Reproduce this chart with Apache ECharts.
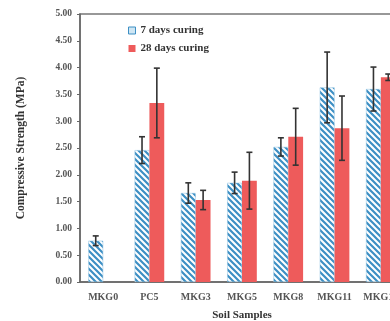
<!DOCTYPE html>
<html><head><meta charset="utf-8">
<script src="https://cdn.jsdelivr.net/npm/echarts@6/dist/echarts.min.js"></script>
<style>html,body{margin:0;padding:0;background:#fff}#c{width:390px;height:321px}</style>
</head><body><div id="c"></div>
<script>
const categories = ['MKG0','PC5','MKG3','MKG5','MKG8','MKG11','MKG14'];
const days7 = [0.77, 2.46, 1.66, 1.85, 2.52, 3.63, 3.60];
const days7Err = [0.09, 0.25, 0.19, 0.20, 0.17, 0.66, 0.41];
const days28 = [null, 3.34, 1.53, 1.89, 2.71, 2.87, 3.82];
const days28Err = [null, 0.65, 0.18, 0.53, 0.53, 0.60, 0.06];
const yTicks = [0,0.5,1,1.5,2,2.5,3,3.5,4,4.5,5];

const BLUE = '#3d8fc4', RED = '#ee5b5b';
function hatch(){
  const c = document.createElement('canvas'); c.width = 6; c.height = 6;
  const g = c.getContext('2d');
  g.fillStyle = '#fff'; g.fillRect(0,0,6,6);
  g.strokeStyle = BLUE; g.lineWidth = 2.2;
  g.beginPath();
  g.moveTo(-1,-1); g.lineTo(7,7);
  g.moveTo(-4,2); g.lineTo(2,8);
  g.moveTo(2,-4); g.lineTo(8,2);
  g.stroke();
  return c;
}
const pat = {image: hatch(), repeat: 'repeat'};
const font = '"Liberation Serif","DejaVu Serif",serif';

function errSeries(vals, errs, side){
  return {
    type: 'custom', z: 10, silent: true,
    data: vals.map((v,i)=> v==null ? [i,null,null] : [i, v-errs[i], v+errs[i]]),
    encode: {x:0, y:[1,2]},
    renderItem: function(params, api){
      if (api.value(1) == null || isNaN(api.value(1))) return;
      const cw = api.size([1,0])[0];
      const lo = api.coord([api.value(0), api.value(1)]);
      const hi = api.coord([api.value(0), api.value(2)]);
      const x = lo[0] + side*cw*0.16;
      const hw = 3;
      const st = {stroke:'#333', lineWidth:1.6};
      return {type:'group', children:[
        {type:'line', shape:{x1:x,y1:lo[1],x2:x,y2:hi[1]}, style:st},
        {type:'line', shape:{x1:x-hw,y1:lo[1],x2:x+hw,y2:lo[1]}, style:st},
        {type:'line', shape:{x1:x-hw,y1:hi[1],x2:x+hw,y2:hi[1]}, style:st}
      ]};
    }
  };
}

const chart = echarts.init(document.getElementById('c'));
chart.setOption({
  animation: false,
  grid: {left: 80, right: -14, top: 14, bottom: 39, show: true, borderColor: '#777', borderWidth: 1.5,
         outerBoundsMode: 'none', containLabel: false},
  legend: {
    orient: 'vertical', left: 123, top: 20, itemGap: 7, itemWidth: 7, itemHeight: 7,
    textStyle: {fontFamily: font, fontWeight: 'bold', fontSize: 11, color: '#333'},
    data: [
      {name: '7 days curing', icon: 'rect', itemStyle: {color: '#cfe6f3', borderColor: BLUE, borderWidth: 1}},
      {name: '28 days curing', icon: 'rect', itemStyle: {color: RED}}
    ]
  },
  xAxis: {
    type: 'category', data: categories,
    name: 'Soil Samples', nameLocation: 'middle', nameGap: 28,
    nameTextStyle: {fontFamily: font, fontWeight: 'bold', fontSize: 11, color: '#333'},
    axisLine: {lineStyle: {color: '#666', width: 1.5}},
    axisTick: {inside: true, length: 3, lineStyle: {color: '#222', width: 2}},
    axisLabel: {interval: 0, fontFamily: font, fontWeight: 'bold', fontSize: 10, color: '#555', margin: 10}
  },
  yAxis: {
    type: 'value', min: 0, max: 5, interval: 0.5,
    name: 'Compressive Strength (MPa)', nameLocation: 'middle', nameGap: 53,
    nameTextStyle: {fontFamily: font, fontWeight: 'bold', fontSize: 11.5, color: '#333'},
    axisLine: {show: true, lineStyle: {color: '#666', width: 1.5}},
    axisTick: {show: true, length: 3, lineStyle: {color: '#666'}},
    splitLine: {show: false},
    axisLabel: {fontFamily: font, fontWeight: 'bold', fontSize: 9.5, color: '#555', margin: 8,
      formatter: v => v.toFixed(2)}
  },
  series: [
    {name: '7 days curing', type: 'bar', data: days7, barWidth: '32%', barGap: '0%',
     itemStyle: {color: pat, borderColor: '#8cc0e0', borderWidth: 0.5}},
    {name: '28 days curing', type: 'bar', data: days28, barWidth: '32%', barGap: '0%',
     itemStyle: {color: RED}},
    errSeries(days7, days7Err, -1),
    errSeries(days28, days28Err, 1)
  ]
});
</script></body></html>
